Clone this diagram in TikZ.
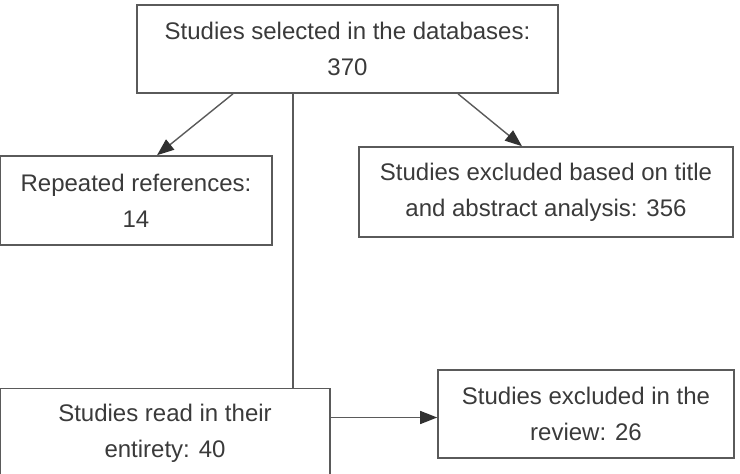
\documentclass[tikz,border=0pt]{standalone}
\usepackage{fontspec}
\setmainfont{Liberation Sans}
\usepackage{tikz}
\usetikzlibrary{arrows.meta,calc}
\definecolor{boxline}{HTML}{5A5A5A}
\definecolor{boxtext}{HTML}{3A3A3A}

\begin{document}
\begin{tikzpicture}[x=1pt,y=-1pt,
    stage/.style={draw=boxline,line width=1.6pt,rectangle,align=center,
        text=boxtext,inner sep=0pt,font=\fontsize{24}{36}\selectfont},
    flow/.style={draw=boxline,line width=1.4pt,
        -{Triangle[length=17pt,width=13pt,color=boxtext!85!black]}}]
    \useasboundingbox (0,0) rectangle (740,474);

    \node[stage,minimum width=421pt,minimum height=88pt] (sel) at (347.5,49)
        {Studies selected in the databases:\\370};
    \node[stage,minimum width=272pt,minimum height=89pt] (rep) at (136,200.5)
        {Repeated references:\\14};
    \node[stage,minimum width=374pt,minimum height=90pt] (excl) at (546,192)
        {Studies excluded based on title\\and abstract analysis: 356};
    \node[stage,minimum width=330pt,minimum height=90pt] (read) at (165,433.5)
        {Studies read in their\\entirety: 40};
    \node[stage,minimum width=296pt,minimum height=88pt] (rev) at (586,414)
        {Studies excluded in the\\review: 26};

    \draw[flow] ([xshift=-114.5pt]sel.south) -- ([xshift=21pt]rep.north);
    \draw[flow] ([xshift=110.5pt]sel.south) -- ([xshift=-24pt]excl.north);
    \draw[draw=boxline,line width=1.4pt] ([xshift=-54.5pt]sel.south)
        -- ([xshift=-54.5pt]sel.south |- read.north);
    \draw[flow] ([yshift=16pt]read.east) -- ([yshift=16pt]read.east -| rev.west);

\end{tikzpicture}
\end{document}
